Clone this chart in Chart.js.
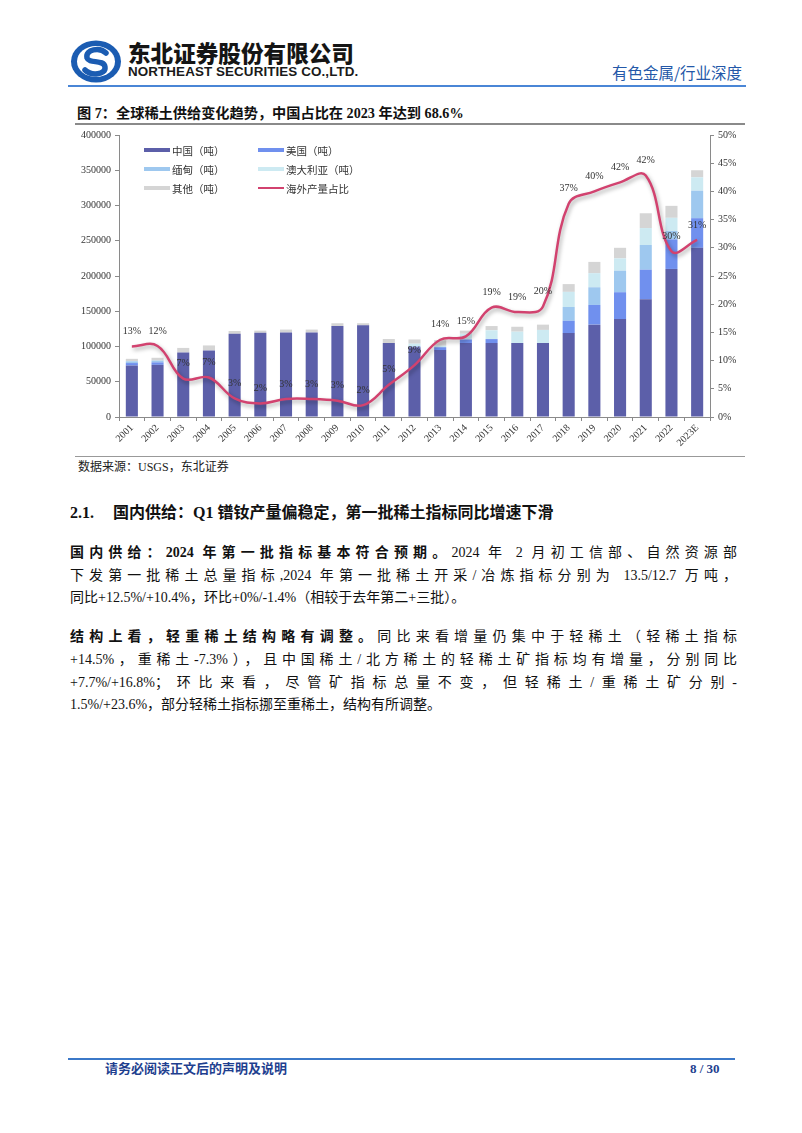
<!DOCTYPE html>
<html>
<head>
<meta charset="utf-8">
<script src="https://cdn.jsdelivr.net/npm/chart.js@4.4.1/dist/chart.umd.min.js"></script>
<style>
  body { margin: 0; background: #fff; }
  #page { position: relative; width: 802px; height: 1133px; overflow: hidden; background: #fff;
          font-family: "Liberation Serif", "Noto Sans CJK SC", serif; color: #111; }
  .abs { position: absolute; white-space: nowrap; }
  .rule { position: absolute; }
  .line { position: absolute; left: 70px; width: 667px; font-size: 14px; line-height: 22px; height: 22px;
          white-space: nowrap; text-align: justify; text-align-last: justify; }
  .line.last { text-align-last: left; }
  .line b { font-weight: 700; }
  #legend { position: absolute; left: 144px; top: 141px; font-family: "Noto Sans CJK SC", sans-serif;
            font-size: 10.5px; color: #333; }
  .lg { position: absolute; display: flex; align-items: center; white-space: nowrap; height: 18px; }
  .sw { width: 26px; height: 4px; margin-right: 2px; }
</style>
</head>
<body>
<div id="page">
  <!-- header -->
  <svg class="abs" style="left:70px;top:40px" width="52" height="43" viewBox="0 0 52 43">
    <ellipse cx="26" cy="21.5" rx="25" ry="21" fill="#1b5cb2"/>
    <ellipse cx="26" cy="21.5" rx="19" ry="15.5" fill="#fff"/>
    <path d="M36 13 C30 7 15 9 17 18 C19 24 34 19 35 27 C36 35 21 36 15 30" stroke="#1b5cb2" stroke-width="5.5" fill="none" stroke-linecap="round"/>
  </svg>
  <div class="abs" style="left:128px;top:40px;font-family:'Noto Sans CJK SC';font-weight:900;font-size:22.6px;line-height:26px;color:#151515;">东北证券股份有限公司</div>
  <div class="abs" style="left:128px;top:64px;font-family:'Liberation Sans';font-weight:700;font-size:13.4px;line-height:16px;letter-spacing:0.1px;color:#1a1a1a;">NORTHEAST SECURITIES CO.,LTD.</div>
  <div class="abs" style="left:612px;top:62px;font-family:'Noto Sans CJK SC';font-size:15.5px;line-height:20px;color:#2458a8;">有色金属/行业深度</div>
  <div class="rule" style="left:68px;top:85px;width:678px;height:1.5px;background:#4a86d6;"></div>

  <!-- figure title -->
  <div class="abs" style="left:77px;top:104px;font-weight:700;font-size:14.2px;line-height:18px;">图 7：全球稀土供给变化趋势，中国占比在 2023 年达到 68.6%</div>
  <div class="rule" style="left:75px;top:123px;width:670px;height:2px;background:#8a8a8a;"></div>

  <!-- chart -->
  <div class="abs" style="left:70px;top:125px;width:680px;height:330px;">
    <canvas id="chart" width="680" height="330"></canvas>
  </div>
  <div id="legend"></div>

  <div class="rule" style="left:75px;top:456px;width:670px;height:1px;background:#999;"></div>
  <div class="abs" style="left:78px;top:459px;font-size:12px;line-height:16px;color:#222;">数据来源：USGS，东北证券</div>

  <!-- section -->
  <div class="abs" style="left:70px;top:503px;font-weight:700;font-size:16px;line-height:20px;">2.1.</div>
  <div class="abs" style="left:113px;top:503px;font-weight:700;font-size:16px;line-height:20px;">国内供给：Q1 镨钕产量偏稳定，第一批稀土指标同比增速下滑</div>

  <div class="line" style="top:542px;"><b>国内供给：2024 年第一批指标基本符合预期。</b>2024 年 2 月初工信部、自然资源部</div>
  <div class="line" style="top:565px;">下发第一批稀土总量指标,2024 年第一批稀土开采/冶炼指标分别为 13.5/12.7 万吨，</div>
  <div class="line last" style="top:587px;">同比+12.5%/+10.4%，环比+0%/-1.4%（相较于去年第二+三批）。</div>

  <div class="line" style="top:626px;"><b>结构上看，轻重稀土结构略有调整。</b>同比来看增量仍集中于轻稀土（轻稀土指标</div>
  <div class="line" style="top:649px;">+14.5%，重稀土-7.3%），且中国稀土/北方稀土的轻稀土矿指标均有增量，分别同比</div>
  <div class="line" style="top:672px;">+7.7%/+16.8%；环比来看，尽管矿指标总量不变，但轻稀土/重稀土矿分别-</div>
  <div class="line last" style="top:694px;">1.5%/+23.6%，部分轻稀土指标挪至重稀土，结构有所调整。</div>

  <!-- footer -->
  <div class="rule" style="left:68px;top:1058px;width:667px;height:1.5px;background:#3b78c8;"></div>
  <div class="abs" style="left:105px;top:1060px;font-weight:700;font-size:13px;line-height:17px;color:#1f3f8f;">请务必阅读正文后的声明及说明</div>
  <div class="abs" style="left:690px;top:1060px;font-weight:700;font-size:13px;line-height:17px;color:#1f3f8f;">8 / 30</div>
</div>

<script>
const years = ["2001","2002","2003","2004","2005","2006","2007","2008","2009","2010","2011","2012",
  "2013","2014","2015","2016","2017","2018","2019","2020","2021","2022","2023E"];

// 吨
const china     = [73000, 74000, 91500, 94500, 118000, 119500, 120000, 120000, 129000, 130000, 105000, 99000,
                   95000, 105000, 105000, 105000, 105000, 119000, 131000, 139000, 167000, 210000, 240000];
const usa       = [3500, 3500, 0, 0, 0, 0, 0, 0, 0, 0, 0, 1000,
                   4000, 5000, 5500, 0, 0, 17500, 28000, 38000, 42000, 42000, 42000];
const myanmar   = [2500, 2500, 0, 0, 0, 0, 0, 0, 0, 0, 0, 0,
                   0, 0, 0, 0, 0, 19500, 25000, 30500, 35000, 12000, 39000];
const australia = [0, 0, 0, 0, 0, 0, 0, 0, 0, 0, 0, 4000,
                   2000, 8000, 12500, 16000, 18500, 21500, 20000, 17500, 24000, 18500, 19000];
const others    = [3500, 4000, 6500, 7000, 4000, 3000, 4000, 4000, 4000, 3000, 5600, 6000,
                   8000, 4500, 6000, 7000, 7500, 11000, 16000, 15000, 21000, 17000, 10000];

// 海外产量占比 (%)
const overseasShare = [12.5, 12.6, 6.8, 7.0, 3.3, 2.4, 3.2, 3.2, 2.9, 2.1, 5.7, 9.2,
                       13.7, 14.3, 19.4, 18.6, 19.6, 37.8, 40.0, 41.6, 42.8, 29.4, 31.4];
const shareLabels = ["13%","12%","7%","7%","3%","2%","3%","3%","3%","2%","5%","9%",
                     "14%","15%","19%","19%","20%","37%","40%","42%","42%","30%","31%"];

const leftTicks = { min: 0, max: 400000, step: 50000 };
const rightTicks = { min: 0, max: 50, step: 5 };

const colors = {
  china: "#5c5fa9", usa: "#7090ee", myanmar: "#9ec8ef", australia: "#cdeaf2",
  others: "#d5d5d5", line: "#d2426f"
};

Chart.defaults.font.family = "'Liberation Serif', serif";
Chart.defaults.color = "#333";

const lineShadow = {
  id: "lineShadow",
  beforeDatasetDraw(chart, args) {
    if (chart.data.datasets[args.index].type !== "line") return;
    const ctx = chart.ctx;
    ctx.save();
    ctx.shadowColor = "rgba(0,0,0,0.35)";
    ctx.shadowBlur = 4;
    ctx.shadowOffsetX = 1.5;
    ctx.shadowOffsetY = 2.5;
  },
  afterDatasetDraw(chart, args) {
    if (chart.data.datasets[args.index].type !== "line") return;
    chart.ctx.restore();
  }
};

const shareLabelPlugin = {
  id: "shareLabels",
  afterDatasetsDraw(chart) {
    const idx = chart.data.datasets.findIndex(d => d.type === "line");
    const meta = chart.getDatasetMeta(idx);
    const ctx = chart.ctx;
    ctx.save();
    ctx.font = "10px 'Liberation Serif', serif";
    ctx.fillStyle = "#333";
    ctx.textAlign = "center";
    ctx.textBaseline = "middle";
    meta.data.forEach((pt, i) => {
      ctx.fillText(shareLabels[i], pt.x, pt.y - 15);
    });
    ctx.restore();
  }
};

const axisGrid = { drawOnChartArea: false, drawTicks: true, tickLength: 4, color: "#8a8a8a" };
const axisBorder = { color: "#8a8a8a" };

new Chart(document.getElementById("chart"), {
  data: {
    labels: years,
    datasets: [
      { type: "bar", label: "中国（吨）", data: china, backgroundColor: colors.china, order: 1 },
      { type: "bar", label: "美国（吨）", data: usa, backgroundColor: colors.usa, order: 1 },
      { type: "bar", label: "缅甸（吨）", data: myanmar, backgroundColor: colors.myanmar, order: 1 },
      { type: "bar", label: "澳大利亚（吨）", data: australia, backgroundColor: colors.australia, order: 1 },
      { type: "bar", label: "其他（吨）", data: others, backgroundColor: colors.others, order: 1 },
      { type: "line", label: "海外产量占比", data: overseasShare, yAxisID: "y1", borderColor: colors.line,
        borderWidth: 2.5, pointRadius: 0, tension: 0.4, order: 0 }
    ]
  },
  options: {
    responsive: false,
    animation: false,
    layout: { padding: { top: 8 } },
    datasets: { bar: { barPercentage: 0.47, categoryPercentage: 1.0 } },
    plugins: { legend: { display: false }, tooltip: { enabled: false } },
    scales: {
      x: {
        stacked: true,
        grid: { ...axisGrid, offset: true },
        border: axisBorder,
        ticks: { minRotation: 45, maxRotation: 45, autoSkip: false, font: { size: 10 }, padding: 1 },
        afterFit: s => { s.height = 38; }
      },
      y: {
        stacked: true,
        min: leftTicks.min, max: leftTicks.max,
        ticks: { stepSize: leftTicks.step, font: { size: 10 }, padding: 4, callback: v => String(v) },
        grid: axisGrid,
        border: axisBorder,
        afterFit: s => { s.width = 49; }
      },
      y1: {
        position: "right",
        min: rightTicks.min, max: rightTicks.max,
        ticks: { stepSize: rightTicks.step, font: { size: 10 }, padding: 4, callback: v => v + "%" },
        grid: axisGrid,
        border: axisBorder,
        afterFit: s => { s.width = 40; }
      }
    }
  },
  plugins: [lineShadow, shareLabelPlugin]
});

// legend (two columns, inside plot area)
const legendItems = [
  { text: "中国（吨）", color: colors.china, kind: "bar" },
  { text: "美国（吨）", color: colors.usa, kind: "bar" },
  { text: "缅甸（吨）", color: colors.myanmar, kind: "bar" },
  { text: "澳大利亚（吨）", color: colors.australia, kind: "bar" },
  { text: "其他（吨）", color: colors.others, kind: "bar" },
  { text: "海外产量占比", color: colors.line, kind: "line" }
];
const legend = document.getElementById("legend");
legendItems.forEach((it, i) => {
  const d = document.createElement("div");
  d.className = "lg";
  d.style.left = (i % 2 ? 114 : 0) + "px";
  d.style.top = (Math.floor(i / 2) * 19) + "px";
  d.innerHTML = `<span class="sw" style="background:${it.color};height:${it.kind === "line" ? 2.5 : 4}px"></span><span>${it.text}</span>`;
  legend.appendChild(d);
});
</script>
</body>
</html>
